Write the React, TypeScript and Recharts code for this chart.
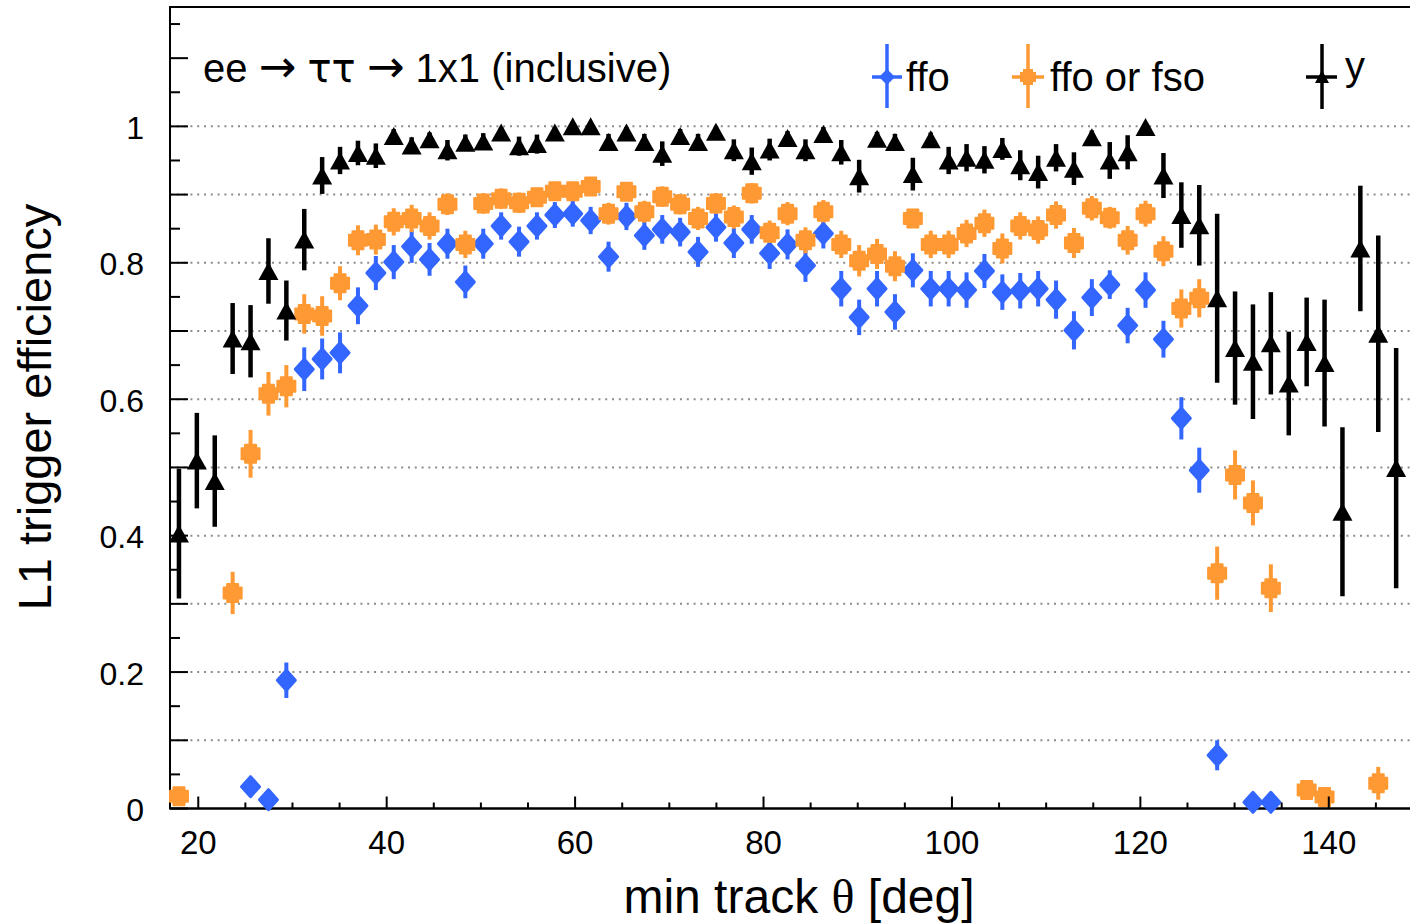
import React from "react"
import {
  ComposedChart,
  Scatter,
  XAxis,
  YAxis,
  ErrorBar,
  ReferenceLine,
  ReferenceArea,
  Label
} from "recharts"

// bin centres of min track theta [deg]
const binCenters = [
  17.95, 19.85, 21.75, 23.65, 25.55, 27.45, 29.35, 31.25, 33.15, 35.05,
  36.95, 38.85, 40.75, 42.65, 44.55, 46.45, 48.35, 50.25, 52.15, 54.05,
  55.95, 57.85, 59.75, 61.65, 63.55, 65.45, 67.35, 69.25, 71.15, 73.05,
  74.95, 76.85, 78.75, 80.65, 82.55, 84.45, 86.35, 88.25, 90.15, 92.05,
  93.95, 95.85, 97.75, 99.65, 101.55, 103.45, 105.35, 107.25, 109.15, 111.05,
  112.95, 114.85, 116.75, 118.65, 120.55, 122.45, 124.35, 126.25, 128.15, 130.05,
  131.95, 133.85, 135.75, 137.65, 139.55, 141.45, 143.35, 145.25, 147.15, 149.05
]

const ffo = [
  null, null, null, null, 0.032, 0.013, 0.188, 0.644, 0.659, 0.668,
  0.737, 0.785, 0.801, 0.824, 0.805, 0.828, 0.772, 0.828, 0.854, 0.831,
  0.854, 0.870, 0.872, 0.862, 0.809, 0.868, 0.840, 0.849, 0.845, 0.816,
  0.852, 0.829, 0.849, 0.814, 0.827, 0.796, 0.843, 0.762, 0.720, 0.762,
  0.728, 0.789, 0.762, 0.762, 0.760, 0.788, 0.757, 0.759, 0.762, 0.746,
  0.701, 0.749, 0.768, 0.708, 0.760, 0.688, 0.572, 0.496, 0.078, null,
  0.009, 0.009, null, null, null, null, null, null, null, null
]
const ffoErr = [
  0, 0, 0, 0, 0.008, 0.005, 0.026, 0.032, 0.030, 0.030,
  0.027, 0.025, 0.025, 0.024, 0.024, 0.022, 0.024, 0.022, 0.020, 0.022,
  0.020, 0.019, 0.019, 0.020, 0.022, 0.020, 0.021, 0.021, 0.021, 0.022,
  0.021, 0.022, 0.021, 0.023, 0.022, 0.024, 0.022, 0.026, 0.026, 0.026,
  0.026, 0.025, 0.026, 0.026, 0.026, 0.025, 0.026, 0.026, 0.026, 0.028,
  0.028, 0.027, 0.021, 0.026, 0.026, 0.027, 0.031, 0.033, 0.022, 0,
  0.005, 0.005, 0, 0, 0, 0, 0, 0, 0, 0
]

const ffoOrFso = [
  0.018, null, null, 0.316, 0.520, 0.608, 0.619, 0.725, 0.722, 0.770,
  0.833, 0.834, 0.860, 0.865, 0.854, 0.886, 0.827, 0.887, 0.894, 0.888,
  0.896, 0.905, 0.905, 0.912, 0.872, 0.904, 0.875, 0.897, 0.886, 0.865,
  0.887, 0.867, 0.902, 0.844, 0.872, 0.833, 0.875, 0.827, 0.803, 0.813,
  0.795, 0.865, 0.827, 0.827, 0.843, 0.858, 0.821, 0.854, 0.848, 0.870,
  0.829, 0.880, 0.866, 0.833, 0.872, 0.817, 0.733, 0.748, 0.345, 0.489,
  0.448, 0.323, null, 0.027, 0.017, null, null, 0.037, null, null
]
const ffoOrFsoErr = [
  0.010, 0, 0, 0.031, 0.035, 0.032, 0.031, 0.029, 0.029, 0.025,
  0.022, 0.022, 0.020, 0.020, 0.020, 0.016, 0.020, 0.015, 0.015, 0.015,
  0.014, 0.013, 0.013, 0.012, 0.016, 0.013, 0.016, 0.015, 0.015, 0.017,
  0.015, 0.017, 0.015, 0.018, 0.017, 0.019, 0.017, 0.020, 0.023, 0.022,
  0.022, 0.014, 0.020, 0.020, 0.020, 0.020, 0.022, 0.020, 0.020, 0.020,
  0.022, 0.018, 0.016, 0.021, 0.019, 0.022, 0.028, 0.028, 0.039, 0.036,
  0.033, 0.035, 0, 0.012, 0.010, 0, 0, 0.024, 0, 0
]

const yTrig = [
  0.403, 0.510, 0.480, 0.689, 0.685, 0.788, 0.730, 0.834, 0.928, 0.950,
  0.961, 0.957, 0.986, 0.972, 0.981, 0.965, 0.976, 0.978, 0.991, 0.971,
  0.974, 0.991, 1.000, 1.000, 0.977, 0.991, 0.977, 0.960, 0.986, 0.977,
  0.992, 0.965, 0.949, 0.966, 0.983, 0.965, 0.989, 0.962, 0.927, 0.982,
  0.977, 0.930, 0.981, 0.950, 0.954, 0.951, 0.967, 0.943, 0.933, 0.954,
  0.938, 0.984, 0.950, 0.962, 0.999, 0.928, 0.870, 0.855, 0.748, 0.675,
  0.655, 0.682, 0.623, 0.684, 0.653, 0.435, 0.821, 0.696, 0.499, null
]
const yTrigErr = [
  0.095, 0.070, 0.067, 0.052, 0.053, 0.048, 0.044, 0.045, 0.027, 0.020,
  0.018, 0.018, 0.010, 0.012, 0.010, 0.015, 0.012, 0.012, 0.008, 0.014,
  0.014, 0.008, 0.005, 0.005, 0.012, 0.008, 0.012, 0.018, 0.010, 0.012,
  0.008, 0.016, 0.020, 0.016, 0.010, 0.016, 0.010, 0.018, 0.024, 0.010,
  0.012, 0.024, 0.010, 0.020, 0.020, 0.020, 0.016, 0.022, 0.024, 0.020,
  0.024, 0.010, 0.027, 0.025, 0.005, 0.033, 0.048, 0.059, 0.124, 0.083,
  0.084, 0.075, 0.076, 0.065, 0.093, 0.124, 0.092, 0.144, 0.176, 0
]

const xTicks = [20, 25, 30, 35, 40, 45, 50, 55, 60, 65, 70, 75, 80, 85, 90, 95, 100, 105, 110, 115, 120, 125, 130, 135, 140, 145, 150]
const xLabelTicks = [20, 40, 60, 80, 100, 120, 140]

const yTicks = [0, 0.05, 0.1, 0.15, 0.2, 0.25, 0.3, 0.35, 0.4, 0.45, 0.5, 0.55, 0.6, 0.65, 0.7, 0.75, 0.8, 0.85, 0.9, 0.95, 1, 1.05, 1.1, 1.15]
const yGridTicks = [0.1, 0.2, 0.3, 0.4, 0.5, 0.6, 0.7, 0.8, 0.9, 1]
const yLabelTicks = [0, 0.2, 0.4, 0.6, 0.8, 1]
const yLabelText = ["0", "0.2", "0.4", "0.6", "0.8", "1"]

const BLUE = "#3366ff"
const ORANGE = "#ff9933"
const FONT = "'Liberation Sans', Arial, Helvetica, sans-serif"
const SYM = "'DejaVu Sans', sans-serif"

const toPoints = (vals: (number | null)[], errs: number[]) =>
  binCenters
    .map((x, i) => ({ x, y: vals[i], err: errs[i] }))
    .filter((p) => p.y !== null)

const ffoData = toPoints(ffo, ffoErr)
const ffoOrFsoData = toPoints(ffoOrFso, ffoOrFsoErr)
const yData = toPoints(yTrig, yTrigErr)

function Diamond(props: any) {
  const { cx, cy, fill } = props
  return (
    <polygon
      points={`${cx},${cy - 10} ${cx + 9},${cy} ${cx},${cy + 10} ${cx - 9},${cy}`}
      fill={fill}
      stroke={fill}
      strokeWidth={3}
      strokeLinejoin="round"
    />
  )
}

function Cross(props: any) {
  const { cx, cy, fill } = props
  const a = 9
  const b = 5.5
  const d = `M${cx - b},${cy - a}H${cx + b}V${cy - b}H${cx + a}V${cy + b}H${cx + b}V${cy + a}H${cx - b}V${cy + b}H${cx - a}V${cy - b}H${cx - b}Z`
  return <path d={d} fill={fill} stroke={fill} strokeWidth={2} strokeLinejoin="round" />
}

function Triangle(props: any) {
  const { cx, cy, fill } = props
  return <polygon points={`${cx},${cy - 9} ${cx + 10},${cy + 9} ${cx - 10},${cy + 9}`} fill={fill} />
}

function XTick(props: any) {
  const { x, y, payload } = props
  const v = payload.value
  const major = xLabelTicks.includes(v)
  return (
    <g>
      <line x1={x} x2={x} y1={y} y2={y - (major ? 12 : 6)} stroke="#000" strokeWidth={2} />
      {major && (
        <text x={x} y={y + 45.5} textAnchor="middle" fontSize={33} fontFamily={FONT} fill="#000">
          {v}
        </text>
      )}
    </g>
  )
}

function YTick(props: any) {
  const { x, y, payload } = props
  const v = payload.value
  const idx = yLabelTicks.indexOf(v)
  const long = yGridTicks.includes(v) || v === 0 || v === 1.1
  return (
    <g>
      <line x1={x} x2={x + (long ? 18 : 10)} y1={y} y2={y} stroke="#000" strokeWidth={2} />
      {idx >= 0 && (
        <text x={x - 26} y={y + 12.5} textAnchor="end" fontSize={32} fontFamily={FONT} fill="#000">
          {yLabelText[idx]}
        </text>
      )}
    </g>
  )
}

export default function App() {
  return (
    <div style={{ position: "absolute", left: 0, top: 0, width: 1410, height: 923, overflow: "hidden", background: "#fff" }}>
      <ComposedChart width={1423} height={923} margin={{ top: 7, right: 0, bottom: 0, left: 0 }}>
        {yGridTicks.map((v) => (
          <ReferenceLine key={v} y={v} stroke="#8c8c8c" strokeWidth={2} strokeDasharray="2 4.8" />
        ))}
        <ReferenceArea x1={17} x2={150} y1={0} y2={1.175} fill="none" stroke="#000" strokeWidth={2} ifOverflow="visible" />
        <XAxis
          type="number"
          dataKey="x"
          domain={[17, 150]}
          ticks={xTicks}
          interval={0}
          tick={<XTick />}
          tickLine={false}
          tickSize={0}
          tickMargin={0}
          axisLine={{ stroke: "#000", strokeWidth: 2 }}
          height={114.5}
        >
          <Label
            content={() => (
              <text x={799} y={913} textAnchor="middle" fontSize={48} fontFamily={FONT} fill="#000">
                min track <tspan fontFamily="'Liberation Serif', 'DejaVu Serif', serif">θ</tspan> [deg]
              </text>
            )}
          />
        </XAxis>
        <YAxis
          type="number"
          dataKey="y"
          domain={[0, 1.175]}
          ticks={yTicks}
          interval={0}
          tick={<YTick />}
          tickLine={false}
          tickSize={0}
          tickMargin={0}
          axisLine={{ stroke: "#000", strokeWidth: 2 }}
          width={170}
        >
          <Label
            content={() => (
              <text
                x={51}
                y={407}
                transform="rotate(-90 51 407)"
                textAnchor="middle"
                fontSize={47}
                fontFamily={FONT}
                fill="#000"
              >
                L1 trigger efficiency
              </text>
            )}
          />
        </YAxis>
        <Scatter name="ffo" data={ffoData} fill={BLUE} shape={<Diamond />} isAnimationActive={false}>
          <ErrorBar dataKey="err" direction="y" width={0} stroke={BLUE} strokeWidth={4} isAnimationActive={false} />
        </Scatter>
        <Scatter name="ffo or fso" data={ffoOrFsoData} fill={ORANGE} shape={<Cross />} isAnimationActive={false}>
          <ErrorBar dataKey="err" direction="y" width={0} stroke={ORANGE} strokeWidth={4} isAnimationActive={false} />
        </Scatter>
        <Scatter name="y" data={yData} fill="#000" shape={<Triangle />} isAnimationActive={false}>
          <ErrorBar dataKey="err" direction="y" width={0} stroke="#000" strokeWidth={4.5} isAnimationActive={false} />
        </Scatter>
      </ComposedChart>
      <svg width={1410} height={923} style={{ position: "absolute", left: 0, top: 0, pointerEvents: "none" }}>
        <text x={203} y={82} fontSize={40} fontFamily={FONT} fill="#000">
          ee <tspan fontFamily={SYM} fontSize={45}>→</tspan> <tspan fontFamily={SYM}>ττ</tspan> <tspan fontFamily={SYM} fontSize={45}>→</tspan> 1x1 (inclusive)
        </text>
        {/* legend */}
        <line x1={887} x2={887} y1={44} y2={108} stroke={BLUE} strokeWidth={3.5} />
        <line x1={872} x2={902} y1={77} y2={77} stroke={BLUE} strokeWidth={3.5} />
        <polygon points="887,69 895,77 887,85 879,77" fill={BLUE} />
        <text x={906} y={91} fontSize={40} fontFamily={FONT} fill="#000">ffo</text>

        <line x1={1028} x2={1028} y1={44} y2={108} stroke={ORANGE} strokeWidth={3.5} />
        <line x1={1012} x2={1044} y1={77} y2={77} stroke={ORANGE} strokeWidth={3.5} />
        <path d="M1023,69H1033V72H1036V82H1033V85H1023V82H1020V72H1023Z" fill={ORANGE} />
        <text x={1050} y={91} fontSize={40} fontFamily={FONT} fill="#000">ffo or fso</text>

        <line x1={1322} x2={1322} y1={44} y2={109} stroke="#000" strokeWidth={3.5} />
        <line x1={1306} x2={1337} y1={77} y2={77} stroke="#000" strokeWidth={3.5} />
        <polygon points="1322,70 1329,83 1315,83" fill="#000" />
        <text x={1345} y={80} fontSize={40} fontFamily={FONT} fill="#000">y</text>
      </svg>
    </div>
  )
}
